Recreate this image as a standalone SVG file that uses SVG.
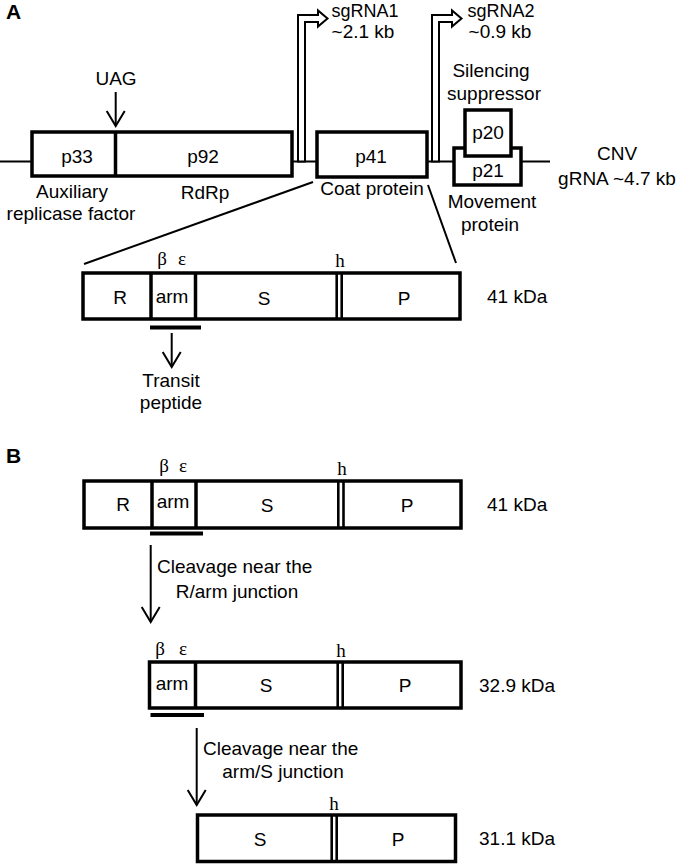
<svg xmlns="http://www.w3.org/2000/svg" width="680" height="864" viewBox="0 0 680 864">
<style>
  .t { font-family: "Liberation Sans", Arial, sans-serif; font-size: 19px; fill: #000; }
  .c { text-anchor: middle; }
  .s { font-size: 18px; }
  .g { font-family: "Liberation Serif", "Times New Roman", serif; font-size: 19px; fill: #000; }
  .lab { font-family: "Liberation Sans", Arial, sans-serif; font-size: 21px; font-weight: bold; fill: #000; }
  .box { fill: #fff; stroke: #000; stroke-width: 3.5; }
  .div { stroke: #000; stroke-width: 3.5; }
  .hl { stroke: #000; stroke-width: 2.6; }
  .ln { stroke: #000; stroke-width: 2; fill: none; }
  .ul { stroke: #000; stroke-width: 4; }
  .hollow { fill: #fff; stroke: #000; stroke-width: 2; stroke-linejoin: miter; }
</style>
<defs>
  <marker id="vhead" markerUnits="userSpaceOnUse" viewBox="-18 -12 20 24" refX="0" refY="0" markerWidth="20" markerHeight="24" orient="auto" overflow="visible">
    <path d="M-15,-9 L0,0 L-15,9" fill="none" stroke="#000" stroke-width="2"/>
  </marker>
</defs>
<rect width="680" height="864" fill="#fff"/>

<text class="lab" x="6" y="19">A</text>
<text class="lab" x="6" y="463">B</text>

<!-- connectors -->
<g id="connectors">
  <line class="ln" x1="0" y1="161.5" x2="550" y2="161.5"/>
  <line class="ln" x1="313" y1="182" x2="84" y2="264"/>
  <line class="ln" x1="428" y1="185" x2="456" y2="263"/>
  <line class="ln" x1="115.7" y1="92" x2="115.7" y2="126" marker-end="url(#vhead)"/>
  <line class="ln" x1="171.7" y1="333" x2="171.7" y2="367" marker-end="url(#vhead)"/>
  <line class="ln" x1="150.7" y1="545" x2="150.7" y2="622" marker-end="url(#vhead)"/>
  <line class="ln" x1="196.7" y1="728" x2="196.7" y2="805" marker-end="url(#vhead)"/>
  <path id="sg1arrow" class="hollow" d="M298,161.5 L298,15 L318,15 L318,10.5 L327.5,18.5 L318,26.5 L318,22 L305,22 L305,161.5 Z"/>
  <path id="sg2arrow" class="hollow" d="M432,161.5 L432,15 L452,15 L452,10.5 L461.5,18.5 L452,26.5 L452,22 L439,22 L439,161.5 Z"/>
</g>

<!-- genome -->
<g id="p33p92">
  <rect class="box" x="32" y="132" width="260" height="44"/>
  <line class="div" x1="115.5" y1="132" x2="115.5" y2="176"/>
  <text class="t c" x="77" y="163">p33</text>
  <text class="t c" x="203" y="163">p92</text>
  <text class="t c" x="72" y="198">Auxiliary</text>
  <text class="t c" x="71" y="220">replicase factor</text>
  <text class="t c" x="205" y="199">RdRp</text>
</g>
<g id="uag"><text class="t c" x="116" y="85">UAG</text></g>
<g id="sgrna1">
  <text class="t s c" x="365" y="17">sgRNA1</text>
  <text class="t c" x="363" y="38">~2.1 kb</text>
</g>
<g id="sgrna2">
  <text class="t s c" x="501" y="17">sgRNA2</text>
  <text class="t c" x="500" y="38">~0.9 kb</text>
</g>
<g id="p41">
  <rect class="box" x="317" y="132" width="110" height="45"/>
  <text class="t c" x="371" y="163">p41</text>
  <text class="t c" x="372" y="195">Coat protein</text>
</g>
<g id="p21">
  <rect class="box" x="454" y="148" width="67" height="37"/>
  <text class="t c" x="488" y="177">p21</text>
  <text class="t c" x="492" y="208">Movement</text>
  <text class="t c" x="490" y="231">protein</text>
</g>
<g id="p20">
  <rect class="box" x="465" y="110" width="46" height="46"/>
  <text class="t c" x="488" y="139">p20</text>
  <text class="t c" x="491" y="77">Silencing</text>
  <text class="t c" x="494" y="100">suppressor</text>
</g>
<g id="cnv">
  <text class="t c" x="617" y="160">CNV</text>
  <text class="t c" x="617" y="185">gRNA ~4.7 kb</text>
</g>

<!-- Panel A coat protein -->
<g id="cpA">
  <rect class="box" x="83" y="273" width="377" height="46"/>
  <line class="div" x1="151" y1="273" x2="151" y2="319"/>
  <line class="div" x1="195.5" y1="273" x2="195.5" y2="319"/>
  <line class="hl" x1="336.7" y1="273" x2="336.7" y2="319"/>
  <line class="hl" x1="341.7" y1="273" x2="341.7" y2="319"/>
  <text class="t c" x="120" y="304">R</text>
  <text class="t c" x="172" y="303">arm</text>
  <text class="t c" x="264" y="305">S</text>
  <text class="t c" x="404" y="305">P</text>
  <text class="g c" x="162" y="265">β</text>
  <text class="g c" x="182" y="265">ε</text>
  <text class="g c" x="340" y="267">h</text>
  <line class="ul" x1="150" y1="327.5" x2="201" y2="327.5"/>
  <text class="t" x="487" y="303">41 kDa</text>
</g>
<g id="transit">
  <text class="t c" x="171" y="387">Transit</text>
  <text class="t c" x="171" y="409">peptide</text>
</g>

<!-- Panel B -->
<g id="cpB1">
  <rect class="box" x="84" y="481" width="377" height="47"/>
  <line class="div" x1="152" y1="481" x2="152" y2="528"/>
  <line class="div" x1="196" y1="481" x2="196" y2="528"/>
  <line class="hl" x1="338.3" y1="481" x2="338.3" y2="528"/>
  <line class="hl" x1="343.5" y1="481" x2="343.5" y2="528"/>
  <text class="t c" x="123" y="511">R</text>
  <text class="t c" x="173" y="508">arm</text>
  <text class="t c" x="267" y="512">S</text>
  <text class="t c" x="407" y="512">P</text>
  <text class="g c" x="164" y="472">β</text>
  <text class="g c" x="183" y="472">ε</text>
  <text class="g c" x="342" y="475">h</text>
  <line class="ul" x1="150" y1="533.5" x2="203" y2="533.5"/>
  <text class="t" x="487" y="511">41 kDa</text>
</g>
<g id="cleave1">
  <text class="t" x="157" y="573">Cleavage near the</text>
  <text class="t c" x="237" y="598">R/arm junction</text>
</g>
<g id="cpB2">
  <rect class="box" x="149.5" y="662" width="311.5" height="46"/>
  <line class="div" x1="195.5" y1="662" x2="195.5" y2="708"/>
  <line class="hl" x1="337.7" y1="662" x2="337.7" y2="708"/>
  <line class="hl" x1="342.7" y1="662" x2="342.7" y2="708"/>
  <text class="t c" x="172" y="690">arm</text>
  <text class="t c" x="266" y="692">S</text>
  <text class="t c" x="405" y="692">P</text>
  <text class="g c" x="160" y="655">β</text>
  <text class="g c" x="183" y="655">ε</text>
  <text class="g c" x="341" y="657">h</text>
  <line class="ul" x1="150.5" y1="715" x2="204" y2="715"/>
  <text class="t" x="479" y="692">32.9 kDa</text>
</g>
<g id="cleave2">
  <text class="t" x="203" y="755">Cleavage near the</text>
  <text class="t c" x="283" y="778">arm/S junction</text>
</g>
<g id="cpB3">
  <rect class="box" x="197.5" y="815" width="258" height="46.5"/>
  <line class="hl" x1="331.7" y1="815" x2="331.7" y2="861.5"/>
  <line class="hl" x1="336.7" y1="815" x2="336.7" y2="861.5"/>
  <text class="t c" x="260" y="846">S</text>
  <text class="t c" x="398" y="846">P</text>
  <text class="g c" x="334" y="810">h</text>
  <text class="t" x="479" y="845">31.1 kDa</text>
</g>
</svg>
